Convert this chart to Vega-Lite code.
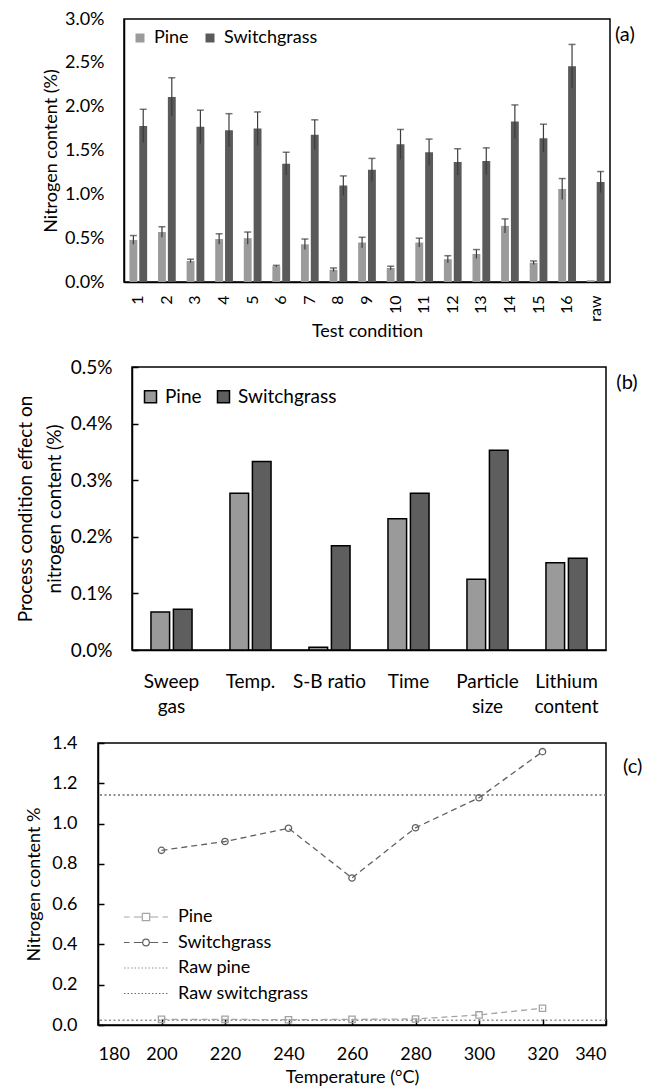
{
  "$schema": "https://vega.github.io/schema/vega-lite/v6.json",
  "background": "white",
  "padding": {"left": 14, "top": 9, "right": 2, "bottom": 2},
  "config": {
    "font": "Lato",
    "view": {"stroke": "#000", "strokeWidth": 1.5},
    "axis": {"labelFont": "Lato", "titleFont": "Lato", "labelColor": "#000", "titleColor": "#000", "labelFontSize": 18, "titleFontSize": 18, "titleFontWeight": "normal", "grid": false, "domainColor": "#000", "domainWidth": 1.5, "tickColor": "#000", "tickWidth": 1.5},
    "legend": {"labelFont": "Lato", "labelFontSize": 18, "labelColor": "#000", "padding": 0},
    "title": {"font": "Lato", "fontSize": 20, "fontWeight": "normal", "color": "#000"}
  },
  "datasets": {
    "condA": [
      {"cond": "1", "species": "Pine", "value": 0.48, "lo": 0.43, "hi": 0.53},
      {"cond": "1", "species": "Switchgrass", "value": 1.78, "lo": 1.59, "hi": 1.97},
      {"cond": "2", "species": "Pine", "value": 0.57, "lo": 0.51, "hi": 0.63},
      {"cond": "2", "species": "Switchgrass", "value": 2.11, "lo": 1.89, "hi": 2.33},
      {"cond": "3", "species": "Pine", "value": 0.24, "lo": 0.22, "hi": 0.26},
      {"cond": "3", "species": "Switchgrass", "value": 1.77, "lo": 1.58, "hi": 1.96},
      {"cond": "4", "species": "Pine", "value": 0.49, "lo": 0.43, "hi": 0.55},
      {"cond": "4", "species": "Switchgrass", "value": 1.73, "lo": 1.54, "hi": 1.92},
      {"cond": "5", "species": "Pine", "value": 0.50, "lo": 0.43, "hi": 0.57},
      {"cond": "5", "species": "Switchgrass", "value": 1.75, "lo": 1.56, "hi": 1.94},
      {"cond": "6", "species": "Pine", "value": 0.18, "lo": 0.17, "hi": 0.19},
      {"cond": "6", "species": "Switchgrass", "value": 1.35, "lo": 1.22, "hi": 1.48},
      {"cond": "7", "species": "Pine", "value": 0.43, "lo": 0.37, "hi": 0.49},
      {"cond": "7", "species": "Switchgrass", "value": 1.68, "lo": 1.51, "hi": 1.85},
      {"cond": "8", "species": "Pine", "value": 0.14, "lo": 0.12, "hi": 0.16},
      {"cond": "8", "species": "Switchgrass", "value": 1.10, "lo": 0.99, "hi": 1.21},
      {"cond": "9", "species": "Pine", "value": 0.45, "lo": 0.39, "hi": 0.51},
      {"cond": "9", "species": "Switchgrass", "value": 1.28, "lo": 1.15, "hi": 1.41},
      {"cond": "10", "species": "Pine", "value": 0.16, "lo": 0.14, "hi": 0.18},
      {"cond": "10", "species": "Switchgrass", "value": 1.57, "lo": 1.40, "hi": 1.74},
      {"cond": "11", "species": "Pine", "value": 0.45, "lo": 0.40, "hi": 0.50},
      {"cond": "11", "species": "Switchgrass", "value": 1.48, "lo": 1.33, "hi": 1.63},
      {"cond": "12", "species": "Pine", "value": 0.26, "lo": 0.22, "hi": 0.30},
      {"cond": "12", "species": "Switchgrass", "value": 1.37, "lo": 1.22, "hi": 1.52},
      {"cond": "13", "species": "Pine", "value": 0.32, "lo": 0.27, "hi": 0.37},
      {"cond": "13", "species": "Switchgrass", "value": 1.38, "lo": 1.23, "hi": 1.53},
      {"cond": "14", "species": "Pine", "value": 0.64, "lo": 0.56, "hi": 0.72},
      {"cond": "14", "species": "Switchgrass", "value": 1.83, "lo": 1.64, "hi": 2.02},
      {"cond": "15", "species": "Pine", "value": 0.22, "lo": 0.20, "hi": 0.24},
      {"cond": "15", "species": "Switchgrass", "value": 1.64, "lo": 1.48, "hi": 1.80},
      {"cond": "16", "species": "Pine", "value": 1.06, "lo": 0.94, "hi": 1.18},
      {"cond": "16", "species": "Switchgrass", "value": 2.46, "lo": 2.21, "hi": 2.71},
      {"cond": "raw", "species": "Pine", "value": 0.02, "lo": null, "hi": null},
      {"cond": "raw", "species": "Switchgrass", "value": 1.14, "lo": 1.02, "hi": 1.26}
    ],
    "effects": [
      {"condition": "Sweep gas", "material": "Pine", "effect": 0.067},
      {"condition": "Sweep gas", "material": "Switchgrass", "effect": 0.072},
      {"condition": "Temp.", "material": "Pine", "effect": 0.277},
      {"condition": "Temp.", "material": "Switchgrass", "effect": 0.333},
      {"condition": "S-B ratio", "material": "Pine", "effect": 0.005},
      {"condition": "S-B ratio", "material": "Switchgrass", "effect": 0.184},
      {"condition": "Time", "material": "Pine", "effect": 0.232},
      {"condition": "Time", "material": "Switchgrass", "effect": 0.277},
      {"condition": "Particle size", "material": "Pine", "effect": 0.125},
      {"condition": "Particle size", "material": "Switchgrass", "effect": 0.353},
      {"condition": "Lithium content", "material": "Pine", "effect": 0.154},
      {"condition": "Lithium content", "material": "Switchgrass", "effect": 0.162}
    ],
    "temps": [
      {"series": "Pine", "temp": 200, "n": 0.028},
      {"series": "Pine", "temp": 220, "n": 0.028},
      {"series": "Pine", "temp": 240, "n": 0.026},
      {"series": "Pine", "temp": 260, "n": 0.028},
      {"series": "Pine", "temp": 280, "n": 0.030},
      {"series": "Pine", "temp": 300, "n": 0.050},
      {"series": "Pine", "temp": 320, "n": 0.083},
      {"series": "Switchgrass", "temp": 200, "n": 0.867},
      {"series": "Switchgrass", "temp": 220, "n": 0.911},
      {"series": "Switchgrass", "temp": 240, "n": 0.977},
      {"series": "Switchgrass", "temp": 260, "n": 0.730},
      {"series": "Switchgrass", "temp": 280, "n": 0.979},
      {"series": "Switchgrass", "temp": 300, "n": 1.128},
      {"series": "Switchgrass", "temp": 320, "n": 1.357}
    ],
    "raw": [
      {"series": "Raw pine", "n": 0.023},
      {"series": "Raw switchgrass", "n": 1.142}
    ],
    "blank": [{"k": 0}]
  },
  "columns": 2,
  "align": "none",
  "spacing": {"row": 16, "column": 0},
  "resolve": {
    "scale": {"color": "independent", "shape": "independent", "xOffset": "independent", "x": "independent", "y": "independent"},
    "legend": {"color": "independent", "shape": "independent"}
  },
  "concat": [
    {"width": 1, "height": 1, "data": {"name": "blank"}, "mark": {"type": "point", "opacity": 0, "size": 1}, "encoding": {}, "view": {"stroke": null}},
    {
      "width": 486,
      "height": 263,
      "data": {"name": "condA"},
      "title": {"text": "(a)", "orient": "right", "anchor": "start", "angle": 0, "align": "left", "baseline": "top", "offset": -15, "dy": 15},
      "encoding": {
        "x": {"field": "cond", "type": "nominal", "sort": null,
          "scale": {"paddingInner": 0.38, "paddingOuter": 0.19},
          "axis": {"title": "Test condition", "labelAngle": -90, "ticks": false, "labelPadding": 13, "labelFontSize": 16, "titlePadding": 1}},
        "xOffset": {"field": "species", "type": "nominal", "scale": {"paddingInner": 0.2}}
      },
      "layer": [
        {
          "mark": {"type": "bar"},
          "encoding": {
            "y": {"field": "value", "type": "quantitative", "scale": {"domain": [0, 3]},
              "axis": {"title": ["", "Nitrogen content (%)"], "titleLineHeight": 26, "titlePadding": 4, "values": [0, 0.5, 1, 1.5, 2, 2.5, 3], "labelExpr": "format(datum.value, '.1f') + '%'", "ticks": false, "labelPadding": 20}},
            "color": {"field": "species", "type": "nominal",
              "scale": {"domain": ["Pine", "Switchgrass"], "range": ["#9b9b9b", "#5a5a5a"]},
              "legend": {"title": null, "orient": "none", "legendX": 7, "legendY": 10, "direction": "horizontal", "symbolType": "square", "symbolSize": 81, "symbolStrokeWidth": 0, "labelOffset": 5, "columnPadding": 12}}
          }
        },
        {
          "mark": {"type": "rule", "color": "#3c3c3c", "strokeWidth": 1.2},
          "encoding": {"y": {"field": "lo", "type": "quantitative"}, "y2": {"field": "hi"}}
        },
        {
          "mark": {"type": "tick", "color": "#3c3c3c", "thickness": 1.5, "size": 7},
          "encoding": {"y": {"field": "hi", "type": "quantitative"}}
        }
      ]
    },
    {"width": 1, "height": 1, "data": {"name": "blank"}, "mark": {"type": "point", "opacity": 0, "size": 1}, "encoding": {}, "view": {"stroke": null}},
    {
      "width": 474,
      "height": 283,
      "data": {"name": "effects"},
      "title": {"text": "(b)", "orient": "right", "anchor": "start", "angle": 0, "align": "left", "baseline": "top", "offset": -11, "dy": 15},
      "mark": {"type": "bar", "stroke": "#000", "strokeWidth": 1.5},
      "encoding": {
        "x": {"field": "condition", "type": "nominal", "sort": null,
          "scale": {"paddingInner": 0.48, "paddingOuter": 0.24},
          "axis": {"title": null, "labelAngle": 0, "ticks": false, "labelPadding": 22, "labelFontSize": 19, "labelLineHeight": 25,
            "labelExpr": "datum.value == 'S-B ratio' ? datum.value : split(datum.value, ' ')"}},
        "xOffset": {"field": "material", "type": "nominal", "scale": {"paddingInner": 0.17}},
        "y": {"field": "effect", "type": "quantitative", "scale": {"domain": [0, 0.5]},
          "axis": {"title": ["Process condition effect on", "nitrogen content (%)"], "titleFontSize": 19, "titleLineHeight": 29, "titlePadding": 6,
            "values": [0, 0.1, 0.2, 0.3, 0.4, 0.5], "labelExpr": "format(datum.value, '.1f') + '%'", "labelFontSize": 19, "tickSize": -6, "labelPadding": 26}},
        "color": {"field": "material", "type": "nominal",
          "scale": {"domain": ["Pine", "Switchgrass"], "range": ["#9a9a9a", "#5e5e5e"]},
          "legend": {"title": null, "orient": "none", "legendX": 9, "legendY": 20, "direction": "horizontal", "symbolType": "square", "symbolSize": 144, "symbolStrokeColor": "#000", "symbolStrokeWidth": 1.5, "labelOffset": 5, "columnPadding": 12, "labelFontSize": 19}}
      }
    },
    {"width": 1, "height": 1, "data": {"name": "blank"}, "mark": {"type": "point", "opacity": 0, "size": 1}, "encoding": {}, "view": {"stroke": null}},
    {
      "width": 508,
      "height": 282,
      "title": {"text": "(c)", "orient": "right", "anchor": "start", "angle": 0, "align": "left", "baseline": "top", "offset": -3, "dy": 23},
      "layer": [
        {
          "data": {"name": "raw"},
          "mark": {"type": "rule", "strokeDash": [2, 2.5], "strokeWidth": 1.5},
          "encoding": {
            "y": {"field": "n", "type": "quantitative", "scale": {"domain": [0, 1.4], "nice": false},
              "axis": {"title": ["", "Nitrogen content %"], "titleLineHeight": 10, "titlePadding": 8, "values": [0, 0.2, 0.4, 0.6, 0.8, 1, 1.2, 1.4], "format": ".1f", "tickSize": -6, "labelPadding": 27}},
            "color": {"field": "series", "type": "nominal",
              "scale": {"domain": ["Pine", "Switchgrass", "Raw pine", "Raw switchgrass"], "range": ["#a3a3a3", "#626262", "#939393", "#6e6e6e"]},
              "legend": {"title": null, "orient": "none", "legendX": 37, "legendY": 163, "symbolSize": 400, "symbolStrokeWidth": 1.2, "labelOffset": 21, "rowPadding": 5.5,
                "encode": {"symbols": {"update": {
                  "shape": {"signal": "datum.value == 'Pine' ? 'M-2.2,0H-1.65M-1.21,0H-0.37M-0.37,-0.37H0.37V0.37H-0.37ZM0.37,0H1.21M1.65,0H2.2' : datum.value == 'Switchgrass' ? 'M-2.2,0H-1.65M-1.21,0H-0.33M0.33,0A0.33,0.33 0 1,1 -0.33,0A0.33,0.33 0 1,1 0.33,0M0.33,0H1.21M1.65,0H2.2' : 'M-2.2,0H2.2'"},
                  "strokeDash": {"signal": "datum.value == 'Pine' || datum.value == 'Switchgrass' ? [100, 0] : [1.5, 2]"},
                  "fill": {"value": "transparent"},
                  "stroke": {"signal": "datum.value == 'Pine' ? '#a3a3a3' : datum.value == 'Switchgrass' ? '#626262' : datum.value == 'Raw pine' ? '#939393' : '#6e6e6e'"},
                  "opacity": {"value": 1}
                }}}}}
          }
        },
        {
          "data": {"name": "temps"},
          "mark": {"type": "line", "strokeDash": [6, 4], "strokeWidth": 1.3},
          "encoding": {
            "x": {"field": "temp", "type": "quantitative", "scale": {"domain": [180, 340], "nice": false},
              "axis": {"title": "Temperature (°C)", "values": [180, 200, 220, 240, 260, 280, 300, 320, 340], "tickSize": -6, "labelPadding": 26, "titlePadding": 5}},
            "y": {"field": "n", "type": "quantitative"},
            "color": {"field": "series", "type": "nominal"}
          }
        },
        {
          "data": {"name": "temps"},
          "mark": {"type": "point", "filled": false, "size": 40, "strokeWidth": 1.3, "opacity": 1},
          "encoding": {
            "x": {"field": "temp", "type": "quantitative"},
            "y": {"field": "n", "type": "quantitative"},
            "color": {"field": "series", "type": "nominal"},
            "shape": {"field": "series", "type": "nominal", "scale": {"domain": ["Pine", "Switchgrass"], "range": ["square", "circle"]}, "legend": null}
          }
        }
      ]
    }
  ]
}
